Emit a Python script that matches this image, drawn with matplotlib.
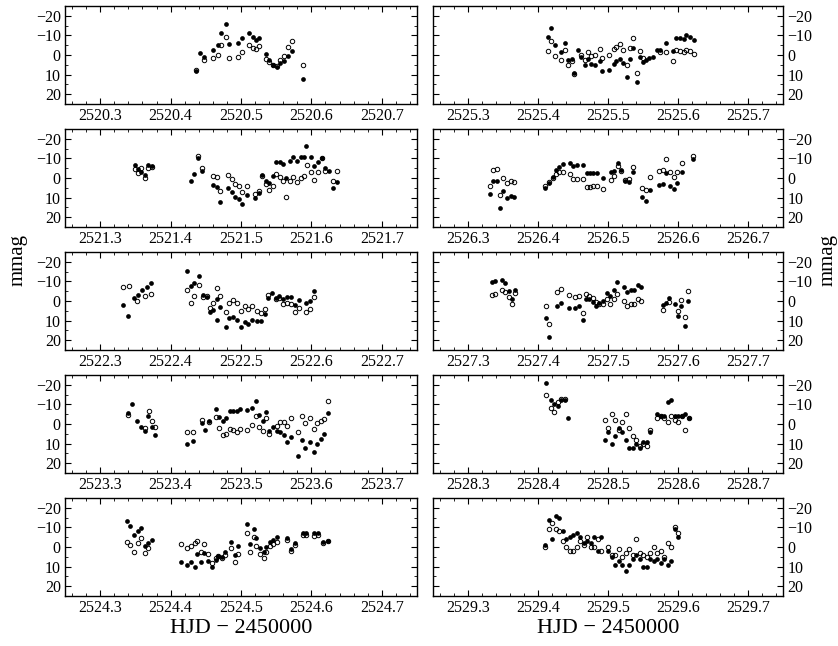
import matplotlib
matplotlib.use("Agg")
import matplotlib.pyplot as plt
from matplotlib.ticker import MultipleLocator

plt.rcParams['font.family'] = ['Liberation Serif', 'DejaVu Serif']

# nights (integer part of HJD - 2450000), left column then right column
nights = [2520, 2521, 2522, 2523, 2524, 2525, 2526, 2527, 2528, 2529]

# ---- datos: (HJD-2450000, mmag) ; filled = first star, open = second star ----
n2520_f = [(2520.436, 8.2), (2520.442, -1.2), (2520.448, 0.8), (2520.460, -2.7), (2520.467, -5.3),
           (2520.472, -11.2), (2520.478, -15.9), (2520.483, -5.5), (2520.496, -6.3), (2520.501, -8.5),
           (2520.512, -11.3), (2520.517, -9.2), (2520.521, -7.8), (2520.526, -8.5), (2520.535, -0.4),
           (2520.540, 2.5), (2520.546, 5.0), (2520.551, 5.9), (2520.555, 4.0), (2520.561, 3.3),
           (2520.567, 0.3), (2520.573, -2.2), (2520.588, 12.1)]
n2520_o = [(2520.436, 7.4), (2520.448, 2.6), (2520.460, 1.3), (2520.467, 0.0), (2520.472, -5.3),
           (2520.478, -9.3), (2520.483, 1.6), (2520.496, 1.1), (2520.501, -1.6), (2520.512, -5.3),
           (2520.517, -3.8), (2520.521, -3.1), (2520.526, -4.5), (2520.535, 2.0), (2520.540, 3.7),
           (2520.546, 5.0), (2520.551, 5.4), (2520.555, 2.5), (2520.561, 0.5), (2520.567, -3.9),
           (2520.573, -7.3), (2520.588, 5.2)]

n2521_f = [(2521.349, -6.5), (2521.354, -4.5), (2521.358, -3.0), (2521.363, -1.5), (2521.368, -6.5),
           (2521.373, -6.0),
           (2521.4285, 1.3), (2521.433, -2.1), (2521.4385, -10.3), (2521.444, -3.4), (2521.460, 3.5),
           (2521.4655, 4.7), (2521.470, 12.3), (2521.482, 5.0), (2521.487, 7.2), (2521.492, 9.7),
           (2521.497, 10.6), (2521.502, 13.3), (2521.508, 8.9), (2521.520, 10.3), (2521.525, 7.7),
           (2521.530, -1.5), (2521.5355, 1.3), (2521.540, 2.7), (2521.545, -0.9), (2521.5497, -8.3),
           (2521.555, -8.0), (2521.560, -7.1), (2521.5645, 0.1), (2521.5696, -8.8), (2521.574, -10.5),
           (2521.579, -8.8), (2521.585, -10.5), (2521.589, -10.9), (2521.593, -16.1), (2521.599, -10.9),
           (2521.604, -6.3), (2521.6095, -8.3), (2521.615, -10.0), (2521.619, -4.9), (2521.6245, -3.7),
           (2521.631, 5.0), (2521.637, 1.8)]
n2521_o = [(2521.349, -4.5), (2521.354, -2.5), (2521.358, -5.0), (2521.363, 0.0), (2521.368, -5.0),
           (2521.373, -5.5),
           (2521.4385, -11.3), (2521.444, -5.1), (2521.460, -0.8), (2521.4655, -0.4), (2521.470, 6.4),
           (2521.482, -1.7), (2521.487, 0.5), (2521.492, 3.0), (2521.497, 4.2), (2521.502, 7.2),
           (2521.508, 3.9), (2521.520, 8.1), (2521.525, 6.7), (2521.530, -1.2), (2521.5355, 3.0),
           (2521.540, 6.0), (2521.545, 4.2), (2521.5497, -2.1), (2521.555, -0.4), (2521.560, 1.7),
           (2521.5645, 9.9), (2521.5696, 1.3), (2521.574, -0.4), (2521.579, 2.2), (2521.585, 0.1),
           (2521.589, -0.9), (2521.594, -6.8), (2521.599, -3.2), (2521.604, 0.8), (2521.6095, -3.2),
           (2521.615, -10.0), (2521.619, -3.7), (2521.631, 1.3), (2521.637, -3.7)]

n2522_f = [(2522.333, 2.0), (2522.339, 7.5), (2522.348, -1.5), (2522.354, -3.0), (2522.360, -5.5),
           (2522.366, -7.0), (2522.372, -9.0),
           (2522.4228, -15.4), (2522.4285, -7.5), (2522.433, -9.1), (2522.440, -12.7), (2522.4465, -3.2),
           (2522.452, -2.0), (2522.456, 5.7), (2522.4607, 4.6), (2522.466, -1.0), (2522.4707, 3.2),
           (2522.4655, 9.9), (2522.4787, 13.5), (2522.4834, 8.8), (2522.488, 8.1), (2522.4939, 9.9),
           (2522.4996, 13.5), (2522.505, 10.8), (2522.510, 11.5), (2522.5156, 9.6), (2522.523, 10.1),
           (2522.529, 10.1), (2522.5345, 6.7), (2522.539, -1.5), (2522.544, -4.3), (2522.5497, -1.5),
           (2522.5544, -2.7), (2522.559, -1.0), (2522.5657, -2.2), (2522.5714, -2.2), (2522.576, 2.0),
           (2522.5818, -0.5), (2522.592, 1.2), (2522.598, 0.2), (2522.6037, -5.2)]
n2522_o = [(2522.333, -7.0), (2522.341, -7.5), (2522.352, 0.0), (2522.364, -2.5), (2522.372, -3.5),
           (2522.4228, -5.4), (2522.4285, 1.0), (2522.433, -2.7), (2522.440, -8.1), (2522.4465, -2.0),
           (2522.452, -2.5), (2522.456, 3.5), (2522.4607, 1.0), (2522.466, -6.4), (2522.4707, -2.7),
           (2522.4787, 5.7), (2522.4834, 1.0), (2522.488, -0.3), (2522.4939, 1.0), (2522.4996, 5.0),
           (2522.505, 2.4), (2522.510, 4.0), (2522.5156, 2.7), (2522.523, 5.0), (2522.529, 6.0),
           (2522.5345, 4.0), (2522.539, -3.2), (2522.5497, -1.0), (2522.5544, -1.5), (2522.559, 1.5),
           (2522.5657, 1.0), (2522.5714, 1.5), (2522.576, 5.7), (2522.5818, 3.4), (2522.592, 5.4),
           (2522.598, 4.0), (2522.6037, -1.9)]

n2523_f = [(2523.3395, -5.6), (2523.345, -10.0), (2523.352, -1.7), (2523.358, 1.7), (2523.363, 3.4),
           (2523.368, -4.1), (2523.373, 1.5), (2523.378, 5.4), (2523.424, 10.0), (2523.432, 8.8),
           (2523.444, -0.5), (2523.449, 3.0), (2523.454, -1.4), (2523.464, -7.4), (2523.469, -3.5),
           (2523.474, -1.5), (2523.479, -3.0), (2523.484, -6.6), (2523.489, -6.6), (2523.495, -6.4),
           (2523.499, -7.9), (2523.509, -7.1), (2523.516, -8.4), (2523.521, -11.8), (2523.526, -4.7),
           (2523.531, -1.7), (2523.536, -6.2), (2523.540, 3.5), (2523.545, 1.5), (2523.551, 3.4),
           (2523.556, 3.9), (2523.561, 5.7), (2523.566, 9.1), (2523.571, 6.8), (2523.581, 16.4),
           (2523.586, 8.3), (2523.591, 12.2), (2523.598, 9.1), (2523.604, 14.2), (2523.608, 10.0),
           (2523.613, 7.4), (2523.618, 4.9), (2523.623, -5.6)]
n2523_o = [(2523.3395, -4.7), (2523.369, -6.4), (2523.363, 2.0), (2523.373, -1.7), (2523.378, 1.5),
           (2523.424, 4.1), (2523.432, 4.1), (2523.444, -2.2), (2523.454, -1.0), (2523.464, -3.4),
           (2523.469, 2.0), (2523.474, 5.4), (2523.479, 5.1), (2523.484, 2.4), (2523.489, 3.0),
           (2523.494, 3.9), (2523.499, 2.7), (2523.509, 3.0), (2523.516, 0.7), (2523.521, -3.9),
           (2523.526, 1.7), (2523.531, 3.4), (2523.536, -3.0), (2523.540, 5.1), (2523.551, 0.8),
           (2523.556, -0.8), (2523.561, -1.2), (2523.566, 0.8), (2523.571, -3.2), (2523.581, 4.2),
           (2523.586, -4.2), (2523.591, -0.5), (2523.598, -3.0), (2523.604, 2.5), (2523.608, -0.7),
           (2523.613, -1.5), (2523.618, -2.7), (2523.623, -11.5)]

n2524_f = [(2524.338, -13.3), (2524.343, -10.5), (2524.348, -5.9), (2524.354, -8.4), (2524.358, -9.8),
           (2524.363, -0.5), (2524.368, -1.9), (2524.373, -3.7), (2524.415, 7.4), (2524.424, 9.3),
           (2524.429, 7.6), (2524.434, 10.3), (2524.438, 3.7), (2524.443, 7.6), (2524.448, 3.2),
           (2524.453, 7.3), (2524.459, 10.3), (2524.464, 6.4), (2524.468, 4.4), (2524.473, 5.1),
           (2524.477, 2.4), (2524.486, -2.5), (2524.491, 3.9), (2524.496, -0.3), (2524.508, -11.5),
           (2524.513, -1.4), (2524.518, -9.1), (2524.522, -4.4), (2524.527, 0.5), (2524.532, 2.4),
           (2524.536, 0.0), (2524.541, -2.7), (2524.546, -3.5), (2524.551, -5.1), (2524.566, -4.7),
           (2524.571, 1.2), (2524.576, -1.9), (2524.588, -7.3), (2524.593, -7.1), (2524.603, -6.9),
           (2524.610, -7.3), (2524.617, -2.4), (2524.623, -3.0)]
n2524_o = [(2524.338, -2.5), (2524.343, -0.8), (2524.348, 2.4), (2524.354, -1.9), (2524.358, -4.6),
           (2524.363, 3.0), (2524.368, 0.3), (2524.415, -1.5), (2524.424, 0.7), (2524.429, -0.7),
           (2524.434, -2.0), (2524.438, -2.9), (2524.443, 2.4), (2524.448, -1.5), (2524.453, 3.7),
           (2524.459, 8.1), (2524.464, 5.6), (2524.468, 4.7), (2524.473, 5.6), (2524.477, 4.2),
           (2524.486, 0.7), (2524.491, 7.4), (2524.496, 3.7), (2524.508, -7.1), (2524.513, 2.5),
           (2524.518, -5.2), (2524.522, -0.5), (2524.527, 3.7), (2524.532, 5.6), (2524.536, 2.5),
           (2524.541, -0.7), (2524.546, -1.4), (2524.551, -2.5), (2524.566, -3.5), (2524.571, 2.2),
           (2524.576, -0.8), (2524.588, -6.1), (2524.593, -6.1), (2524.603, -5.4), (2524.610, -5.9),
           (2524.617, -1.9), (2524.623, -2.9)]

n2525_f = [(2525.414, -9.3), (2525.419, -13.6), (2525.424, -5.3), (2525.433, -1.7), (2525.438, -6.3),
           (2525.443, 2.5), (2525.448, 2.0), (2525.452, 9.1), (2525.457, -2.7), (2525.462, 0.8),
           (2525.467, 5.0), (2525.471, 2.0), (2525.476, 4.7), (2525.481, 5.0), (2525.488, 3.0),
           (2525.492, 8.1), (2525.502, 7.4), (2525.508, 4.5), (2525.512, 3.3), (2525.517, 2.0),
           (2525.522, 4.2), (2525.527, 11.4), (2525.531, 2.1), (2525.536, -3.6), (2525.541, 13.8),
           (2525.546, 1.1), (2525.550, 3.8), (2525.554, 2.6), (2525.559, 1.3), (2525.564, 1.0),
           (2525.570, -2.7), (2525.574, -2.7), (2525.583, -6.0), (2525.593, -2.2), (2525.597, -8.8),
           (2525.603, -8.8), (2525.608, -8.0), (2525.612, -10.2), (2525.617, -9.2), (2525.623, -7.6)]
n2525_o = [(2525.414, -2.2), (2525.419, -7.0), (2525.424, 0.6), (2525.433, 2.8), (2525.438, -2.6),
           (2525.443, 4.9), (2525.448, 3.0), (2525.452, 9.6), (2525.462, -0.2), (2525.467, 2.8),
           (2525.471, -1.6), (2525.476, 0.6), (2525.481, 0.0), (2525.488, -2.9), (2525.492, 1.6),
           (2525.502, 0.0), (2525.508, -3.1), (2525.512, -3.9), (2525.517, -5.5), (2525.522, -2.6),
           (2525.527, 4.9), (2525.531, -3.8), (2525.536, -8.7), (2525.541, 9.4), (2525.546, -2.2),
           (2525.550, 1.6), (2525.574, -1.4), (2525.583, -1.7), (2525.593, 3.3), (2525.597, -2.7),
           (2525.603, -2.2), (2525.608, -1.4), (2525.612, -2.7), (2525.617, -1.9), (2525.623, -0.6)]

n2526_f = [(2526.3314, 8.4), (2526.336, 1.3), (2526.342, 1.7), (2526.3457, 15.2), (2526.3505, 6.7),
           (2526.355, 10.1), (2526.361, 9.3), (2526.3657, 9.7), (2526.4105, 5.2), (2526.415, 2.5),
           (2526.421, -0.7), (2526.4257, -4.1), (2526.4305, -5.8), (2526.436, -7.1), (2526.4457, -7.6),
           (2526.4505, -6.3), (2526.455, -6.6), (2526.4638, -6.8), (2526.4695, -2.6), (2526.474, -2.6),
           (2526.479, -2.6), (2526.4848, -2.4), (2526.4933, 0.1), (2526.5038, -3.0), (2526.5086, -3.7),
           (2526.5143, -7.6), (2526.519, -3.9), (2526.5248, 1.3), (2526.5295, 2.2), (2526.535, -3.0),
           (2526.5486, 9.7), (2526.5543, 11.8), (2526.560, 5.9), (2526.5724, 3.5), (2526.578, 3.3),
           (2526.5829, -2.6), (2526.5886, 4.0), (2526.594, 5.4), (2526.599, 2.7), (2526.6057, -3.0),
           (2526.621, -9.8)]
n2526_o = [(2526.3314, 3.9), (2526.336, -4.1), (2526.342, -4.4), (2526.3457, 8.9), (2526.3505, -0.2),
           (2526.355, 2.8), (2526.361, 1.5), (2526.3657, 2.2), (2526.4105, 4.2), (2526.415, 1.8),
           (2526.421, 0.1), (2526.4257, -2.0), (2526.4305, -3.0), (2526.436, -3.0), (2526.4457, -1.9),
           (2526.4505, 0.5), (2526.455, 0.5), (2526.4638, 0.5), (2526.4695, 4.7), (2526.474, 4.7),
           (2526.479, 4.2), (2526.4848, 4.2), (2526.4933, 5.7), (2526.5038, 1.0), (2526.5086, -0.9),
           (2526.5143, -5.9), (2526.519, -3.5), (2526.5248, 0.8), (2526.5295, 0.5), (2526.535, -5.4),
           (2526.5486, 5.0), (2526.5543, 5.9), (2526.560, -0.3), (2526.5724, -3.5), (2526.578, -3.9),
           (2526.5829, -9.8), (2526.5886, -3.0), (2526.594, -0.3), (2526.599, -3.0), (2526.6057, -7.6),
           (2526.621, -11.0)]

n2527_f = [(2527.3343, -9.5), (2527.339, -10.0), (2527.3486, -10.8), (2527.3533, -9.1), (2527.358, -5.2),
           (2527.3629, -1.0), (2527.3676, -5.7), (2527.4114, 8.8), (2527.416, 18.5), (2527.4267, 2.7),
           (2527.4324, 1.0), (2527.4438, 3.7), (2527.4533, 3.5), (2527.459, 2.4), (2527.4638, 9.9),
           (2527.4686, -0.8), (2527.4733, -0.8), (2527.478, 0.3), (2527.483, 2.4), (2527.4876, 1.0),
           (2527.4924, 0.0), (2527.498, -4.1), (2527.503, -2.4), (2527.5086, -5.7), (2527.5133, -9.5),
           (2527.523, -7.3), (2527.5276, -4.4), (2527.5324, -5.7), (2527.537, -5.7), (2527.543, -8.1),
           (2527.5476, -6.9), (2527.578, 2.0), (2527.583, 1.2), (2527.5876, -1.5), (2527.5953, 1.5),
           (2527.600, 7.4), (2527.6048, 2.4), (2527.6095, 12.5), (2527.614, -0.2)]
n2527_o = [(2527.3343, -3.1), (2527.339, -3.7), (2527.3486, -5.7), (2527.3533, -4.4), (2527.358, -1.9),
           (2527.3629, 1.5), (2527.3676, -3.9), (2527.4114, 2.7), (2527.416, 11.8), (2527.4267, -4.4),
           (2527.4324, -6.1), (2527.4438, -3.1), (2527.4533, -1.9), (2527.459, -2.7), (2527.4638, 6.1),
           (2527.4686, -3.5), (2527.4733, -2.4), (2527.478, -1.4), (2527.483, 0.6), (2527.4876, 1.5),
           (2527.4924, 1.5), (2527.498, -1.0), (2527.503, 1.5), (2527.5086, -1.0), (2527.5133, -3.7),
           (2527.523, -0.2), (2527.5276, 2.4), (2527.5324, 1.5), (2527.537, 1.5), (2527.543, -1.0),
           (2527.5476, 0.2), (2527.578, 4.4), (2527.5876, 0.3), (2527.600, 5.2), (2527.6048, -0.7),
           (2527.6095, 8.4), (2527.614, -5.0)]

n2528_f = [(2528.412, -21), (2528.418, -12), (2528.423, -10), (2528.428, -9), (2528.433, -12),
           (2528.438, -12), (2528.443, -3), (2528.495, 8), (2528.500, 4), (2528.505, 10), (2528.510, 6),
           (2528.515, 2), (2528.520, 4), (2528.525, 8), (2528.530, 12), (2528.535, 12), (2528.540, 10),
           (2528.545, 12), (2528.550, 9), (2528.555, 9), (2528.560, 4), (2528.570, -5), (2528.575, -4),
           (2528.580, -4), (2528.585, -11), (2528.590, -12), (2528.595, -4), (2528.600, -4),
           (2528.605, -4), (2528.610, -5), (2528.615, -3)]
n2528_o = [(2528.412, -15), (2528.418, -8), (2528.423, -6), (2528.428, -11), (2528.433, -13),
           (2528.438, -13), (2528.495, -2), (2528.500, 2), (2528.505, -5), (2528.510, -2), (2528.515, 3),
           (2528.520, -1), (2528.525, -5), (2528.530, 2), (2528.535, 6), (2528.540, 8), (2528.545, 11),
           (2528.550, 10), (2528.555, 11), (2528.560, 3), (2528.570, -3), (2528.575, -4), (2528.580, -3),
           (2528.585, -1), (2528.590, -4), (2528.595, -2), (2528.600, -1), (2528.605, -4), (2528.610, 3),
           (2528.615, -3)]

n2529_f = [(2529.410, -1), (2529.415, -14), (2529.420, -4), (2529.425, -16), (2529.430, -15),
           (2529.435, -8), (2529.440, -4), (2529.445, -5), (2529.450, -6), (2529.455, -7), (2529.460, -5),
           (2529.465, -2), (2529.470, -3), (2529.475, -2), (2529.480, -5), (2529.485, 2), (2529.490, -5),
           (2529.500, 2), (2529.505, 5), (2529.510, 9), (2529.515, 7), (2529.520, 9), (2529.525, 12),
           (2529.530, 9), (2529.535, 6), (2529.540, 4), (2529.545, 6), (2529.550, 10), (2529.555, 10),
           (2529.560, 6), (2529.565, 7), (2529.570, 6), (2529.575, 8), (2529.580, 6), (2529.585, 9),
           (2529.590, 7), (2529.595, -9), (2529.600, -5)]
n2529_o = [(2529.410, 0), (2529.415, -9), (2529.420, -12), (2529.425, -9), (2529.430, -8),
           (2529.435, -3), (2529.440, 0), (2529.445, 2), (2529.450, 2), (2529.455, 0), (2529.460, -3),
           (2529.465, -1), (2529.470, -5), (2529.475, 0), (2529.480, 0), (2529.485, -4), (2529.490, 2),
           (2529.500, 0), (2529.505, 4), (2529.510, 4), (2529.515, 1), (2529.520, 5), (2529.525, 3),
           (2529.530, 1), (2529.535, 4), (2529.540, -4), (2529.545, 3), (2529.550, 4), (2529.555, 5),
           (2529.560, 3), (2529.565, 0), (2529.570, 3), (2529.575, 2), (2529.580, 5), (2529.585, -2),
           (2529.590, 0), (2529.595, -10), (2529.600, -7)]

filled = [n2520_f, n2521_f, n2522_f, n2523_f, n2524_f, n2525_f, n2526_f, n2527_f, n2528_f, n2529_f]
opened = [n2520_o, n2521_o, n2522_o, n2523_o, n2524_o, n2525_o, n2526_o, n2527_o, n2528_o, n2529_o]

# ---- figura ----
W, H = 838, 646
fig = plt.figure(figsize=(W / 100, H / 100), dpi=100)

col_left = [65, 433]
col_width = [352, 350]
row_top = [6, 129, 252, 375, 498]
row_h = 98

for k in range(10):
    col = k // 5
    row = k % 5
    ax = fig.add_axes([col_left[col] / W, 1 - (row_top[row] + row_h) / H,
                       col_width[col] / W, row_h / H])
    d = nights[k]
    tf = [p[0] for p in filled[k]]
    mf = [p[1] for p in filled[k]]
    to = [p[0] for p in opened[k]]
    mo = [p[1] for p in opened[k]]
    ax.plot(tf, mf, 'o', color='black', ms=3.4, mew=0)
    ax.plot(to, mo, 'o', mfc='none', mec='black', ms=3.2, mew=0.7)

    ax.set_xlim(d + 0.25, d + 0.75)
    ax.set_ylim(25, -25)
    ax.xaxis.set_minor_locator(MultipleLocator(0.02))
    ax.yaxis.set_minor_locator(MultipleLocator(5))
    ax.set_xticks([d + 0.3, d + 0.4, d + 0.5, d + 0.6, d + 0.7])
    ax.set_xticklabels(['%.1f' % (d + v) for v in [0.3, 0.4, 0.5, 0.6, 0.7]])
    ax.set_yticks([-20, -10, 0, 10, 20])
    ax.tick_params(which='both', direction='in', top=True, right=True, labelsize=11.5, pad=3)
    ax.tick_params(which='major', length=4)
    ax.tick_params(which='minor', length=2.2)
    if col == 1:
        ax.tick_params(labelleft=False, labelright=True)
    for s in ax.spines.values():
        s.set_linewidth(1.0)
    if row == 4:
        ax.set_xlabel('HJD − 2450000', fontsize=16, labelpad=2)

fig.text(18 / W, 0.597, 'mmag', rotation=90, fontsize=15, ha='center', va='center')
fig.text(828 / W, 0.597, 'mmag', rotation=90, fontsize=15, ha='center', va='center')

plt.savefig('out.png', dpi=100)
